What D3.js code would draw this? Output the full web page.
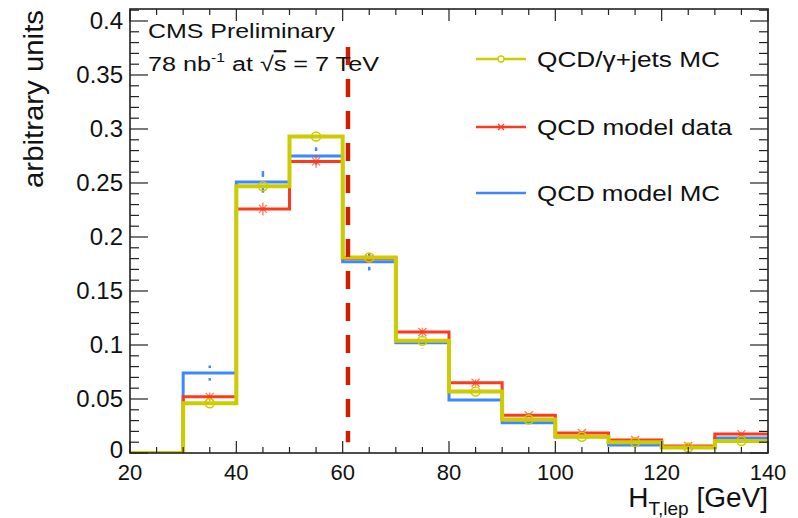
<!DOCTYPE html>
<html>
<head>
<meta charset="utf-8">
<script src="https://cdn.jsdelivr.net/npm/d3@7"></script>
<style>
  html, body { margin: 0; padding: 0; background: #fff; }
  svg { display: block; font-family: "Liberation Sans", Arial, Helvetica, sans-serif; }
</style>
</head>
<body>
<svg id="chart" width="798" height="518"></svg>
<script>
// Bin edges of the H_T,lep histograms (GeV)
const binEdges = [20, 30, 40, 50, 60, 70, 80, 90, 100, 110, 120, 130, 140];

// Normalised contents per bin
const gammaJetsMC  = [0, 0.046, 0.247, 0.293, 0.181, 0.104, 0.057, 0.031, 0.015, 0.010, 0.005, 0.011];
const modelData    = [0, 0.052, 0.226, 0.270, 0.180, 0.112, 0.065, 0.035, 0.0185, 0.012, 0.0065, 0.0175];
const modelDataErr = [0, 0.004, 0.006, 0.006, 0.004, 0.004, 0.003, 0.002, 0.0015, 0.001, 0.001, 0.0015];
const modelMC      = [0, 0.074, 0.251, 0.275, 0.177, 0.102, 0.049, 0.028, 0.015, 0.0075, 0.005, 0.014];
const modelMCErr   = [0, 0.007, 0.010, 0.008, 0.008, 0.005, 0.004, 0.003, 0.002, 0.0015, 0.001, 0.002];

// Selection cut value (GeV)
const cutValue = 61;
const cutRange = [0.01, 0.376];

// Axis ticks
const xMajorTicks = [20, 40, 60, 80, 100, 120, 140];
const yMajorTicks = [0, 0.05, 0.1, 0.15, 0.2, 0.25, 0.3, 0.35, 0.4];
const yTickLabels = ["0", "0.05", "0.1", "0.15", "0.2", "0.25", "0.3", "0.35", "0.4"];

const legendLabels = ["QCD/\u03B3+jets MC", "QCD model data", "QCD model MC"];

const colors = { yellow: "#cccc00", red: "#ff3a1c", blue: "#3d87ff", cut: "#cc1f00", axis: "#222" };

const svg = d3.select("#chart");
const frame = { left: 130, right: 768, top: 9, bottom: 453 };

const x = d3.scaleLinear().domain([20, 140]).range([frame.left, frame.right]);
const y = d3.scaleLinear().domain([0, 0.4111]).range([frame.bottom, frame.top]);

// Step outline of a histogram
function stepPath(values) {
  const pts = [[x(binEdges[0]), y(0)]];
  values.forEach((v, i) => {
    pts.push([x(binEdges[i]), y(v)]);
    pts.push([x(binEdges[i + 1]), y(v)]);
  });
  return d3.line()(pts);
}
const centers = binEdges.slice(0, -1).map((e, i) => (e + binEdges[i + 1]) / 2);

const plot = svg.append("g");
svg.append("clipPath").attr("id", "frameClip").append("rect")
  .attr("x", frame.left).attr("y", frame.top)
  .attr("width", frame.right - frame.left).attr("height", frame.bottom - frame.top);
plot.attr("clip-path", "url(#frameClip)");

// QCD model MC (blue)
plot.append("path").attr("d", stepPath(modelMC))
  .attr("fill", "none").attr("stroke", colors.blue).attr("stroke-width", 3);
modelMC.forEach((v, i) => {
  if (!v) return;
  const cx = x(centers[i]), cy = y(v), gap = 5;
  const top = y(v + modelMCErr[i]), bot = y(v - modelMCErr[i]);
  if (cy - top > gap) plot.append("line").attr("x1", cx).attr("x2", cx).attr("y1", top).attr("y2", cy - gap)
    .attr("stroke", colors.blue).attr("stroke-width", 2.5);
  if (bot - cy > gap) plot.append("line").attr("x1", cx).attr("x2", cx).attr("y1", cy + gap).attr("y2", bot)
    .attr("stroke", colors.blue).attr("stroke-width", 2.5);
});

// QCD model data (red)
plot.append("path").attr("d", stepPath(modelData))
  .attr("fill", "none").attr("stroke", colors.red).attr("stroke-width", 3);
modelData.forEach((v, i) => {
  if (!v) return;
  const cx = x(centers[i]), cy = y(v), s = 4;
  const top = y(v + modelDataErr[i]), bot = y(v - modelDataErr[i]);
  plot.append("line").attr("x1", cx).attr("x2", cx).attr("y1", top).attr("y2", bot)
    .attr("stroke", colors.red).attr("stroke-width", 1.5).attr("opacity", 0.6);
  plot.append("path").attr("d", `M${cx - s},${cy - s}L${cx + s},${cy + s}M${cx - s},${cy + s}L${cx + s},${cy - s}`)
    .attr("stroke", colors.red).attr("stroke-width", 1.3).attr("fill", "none").attr("opacity", 0.7);
});

// QCD/gamma+jets MC (yellow)
plot.append("path").attr("d", stepPath(gammaJetsMC))
  .attr("fill", "none").attr("stroke", colors.yellow).attr("stroke-width", 4);
gammaJetsMC.forEach((v, i) => {
  if (!v) return;
  plot.append("circle").attr("cx", x(centers[i])).attr("cy", y(v)).attr("r", 4.5)
    .attr("fill", "none").attr("stroke", colors.yellow).attr("stroke-width", 1.5);
});

// Cut line
svg.append("line")
  .attr("x1", x(cutValue)).attr("x2", x(cutValue))
  .attr("y1", y(cutRange[1])).attr("y2", y(cutRange[0]))
  .attr("stroke", colors.cut).attr("stroke-width", 4.5).attr("stroke-dasharray", "18,14");

// Frame
svg.append("rect").attr("x", frame.left).attr("y", frame.top)
  .attr("width", frame.right - frame.left).attr("height", frame.bottom - frame.top)
  .attr("fill", "none").attr("stroke", colors.axis).attr("stroke-width", 1.6);

// Tick marks, drawn inside the frame on all four sides
const ticks = svg.append("g").attr("stroke", colors.axis).attr("stroke-width", 1.2);
d3.range(20, 140.01, 5).forEach(v => {
  const len = xMajorTicks.includes(v) ? 12 : 6;
  ticks.append("line").attr("x1", x(v)).attr("x2", x(v)).attr("y1", frame.bottom).attr("y2", frame.bottom - len);
  ticks.append("line").attr("x1", x(v)).attr("x2", x(v)).attr("y1", frame.top).attr("y2", frame.top + len);
});
d3.range(0, 0.411, 0.01).forEach(v => {
  const major = yMajorTicks.some(t => Math.abs(t - v) < 1e-6);
  const len = major ? 18 : 9;
  ticks.append("line").attr("x1", frame.left).attr("x2", frame.left + len).attr("y1", y(v)).attr("y2", y(v));
  ticks.append("line").attr("x1", frame.right).attr("x2", frame.right - len).attr("y1", y(v)).attr("y2", y(v));
});

// Tick labels
const labelG = svg.append("g").attr("fill", "#111");
yMajorTicks.forEach((v, i) => {
  labelG.append("text").attr("x", 123).attr("y", y(v) + (v === 0 ? 5 : 8))
    .attr("text-anchor", "end").attr("font-size", 24).text(yTickLabels[i]);
});
xMajorTicks.forEach(v => {
  labelG.append("text").attr("x", x(v)).attr("y", 480)
    .attr("text-anchor", "middle").attr("font-size", 22).text(v);
});

// Axis titles
labelG.append("text")
  .attr("transform", "translate(43,10) rotate(-90)")
  .attr("text-anchor", "end").attr("font-size", 27)
  .attr("textLength", 178).attr("lengthAdjust", "spacingAndGlyphs")
  .text("arbitrary units");

const xt = labelG.append("text").attr("x", 768).attr("y", 507).attr("text-anchor", "end").attr("font-size", 28);
xt.append("tspan").text("H");
xt.append("tspan").attr("font-size", 19).attr("dy", 8).text("T,lep");
xt.append("tspan").attr("dy", -8).text(" [GeV]");

// Header text
labelG.append("text").attr("x", 148).attr("y", 38).attr("font-size", 21)
  .attr("textLength", 187).attr("lengthAdjust", "spacingAndGlyphs").text("CMS Preliminary");
const lumi = labelG.append("text").attr("transform", "translate(148,71) scale(1.2,1)").attr("font-size", 21);
lumi.append("tspan").text("78 nb");
lumi.append("tspan").attr("font-size", 13).attr("dy", -9).text("-1");
lumi.append("tspan").attr("dy", 9).text(" at \u221A");
lumi.append("tspan").style("text-decoration", "overline").text("s");
lumi.append("tspan").text(" = 7 TeV");

// Legend
const legendRows = [
  { label: legendLabels[0], color: colors.yellow, y: 59, marker: "circle", w: 183 },
  { label: legendLabels[1], color: colors.red, y: 127, marker: "x", w: 195 },
  { label: legendLabels[2], color: colors.blue, y: 193, marker: null, w: 183 }
];
const legend = svg.append("g");
legendRows.forEach(r => {
  legend.append("line").attr("x1", 476).attr("x2", 526).attr("y1", r.y).attr("y2", r.y)
    .attr("stroke", r.color).attr("stroke-width", 2.5);
  if (r.marker === "circle") {
    legend.append("circle").attr("cx", 501).attr("cy", r.y).attr("r", 3)
      .attr("fill", "#fff").attr("stroke", r.color).attr("stroke-width", 1.3);
  } else if (r.marker === "x") {
    const s = 3;
    legend.append("path").attr("d", `M${501 - s},${r.y - s}L${501 + s},${r.y + s}M${501 - s},${r.y + s}L${501 + s},${r.y - s}`)
      .attr("stroke", r.color).attr("stroke-width", 1.3);
  }
  legend.append("text").attr("x", 537).attr("y", r.y + 8).attr("font-size", 22).attr("fill", "#111")
    .attr("textLength", r.w).attr("lengthAdjust", "spacingAndGlyphs").text(r.label);
});
</script>
</body>
</html>
